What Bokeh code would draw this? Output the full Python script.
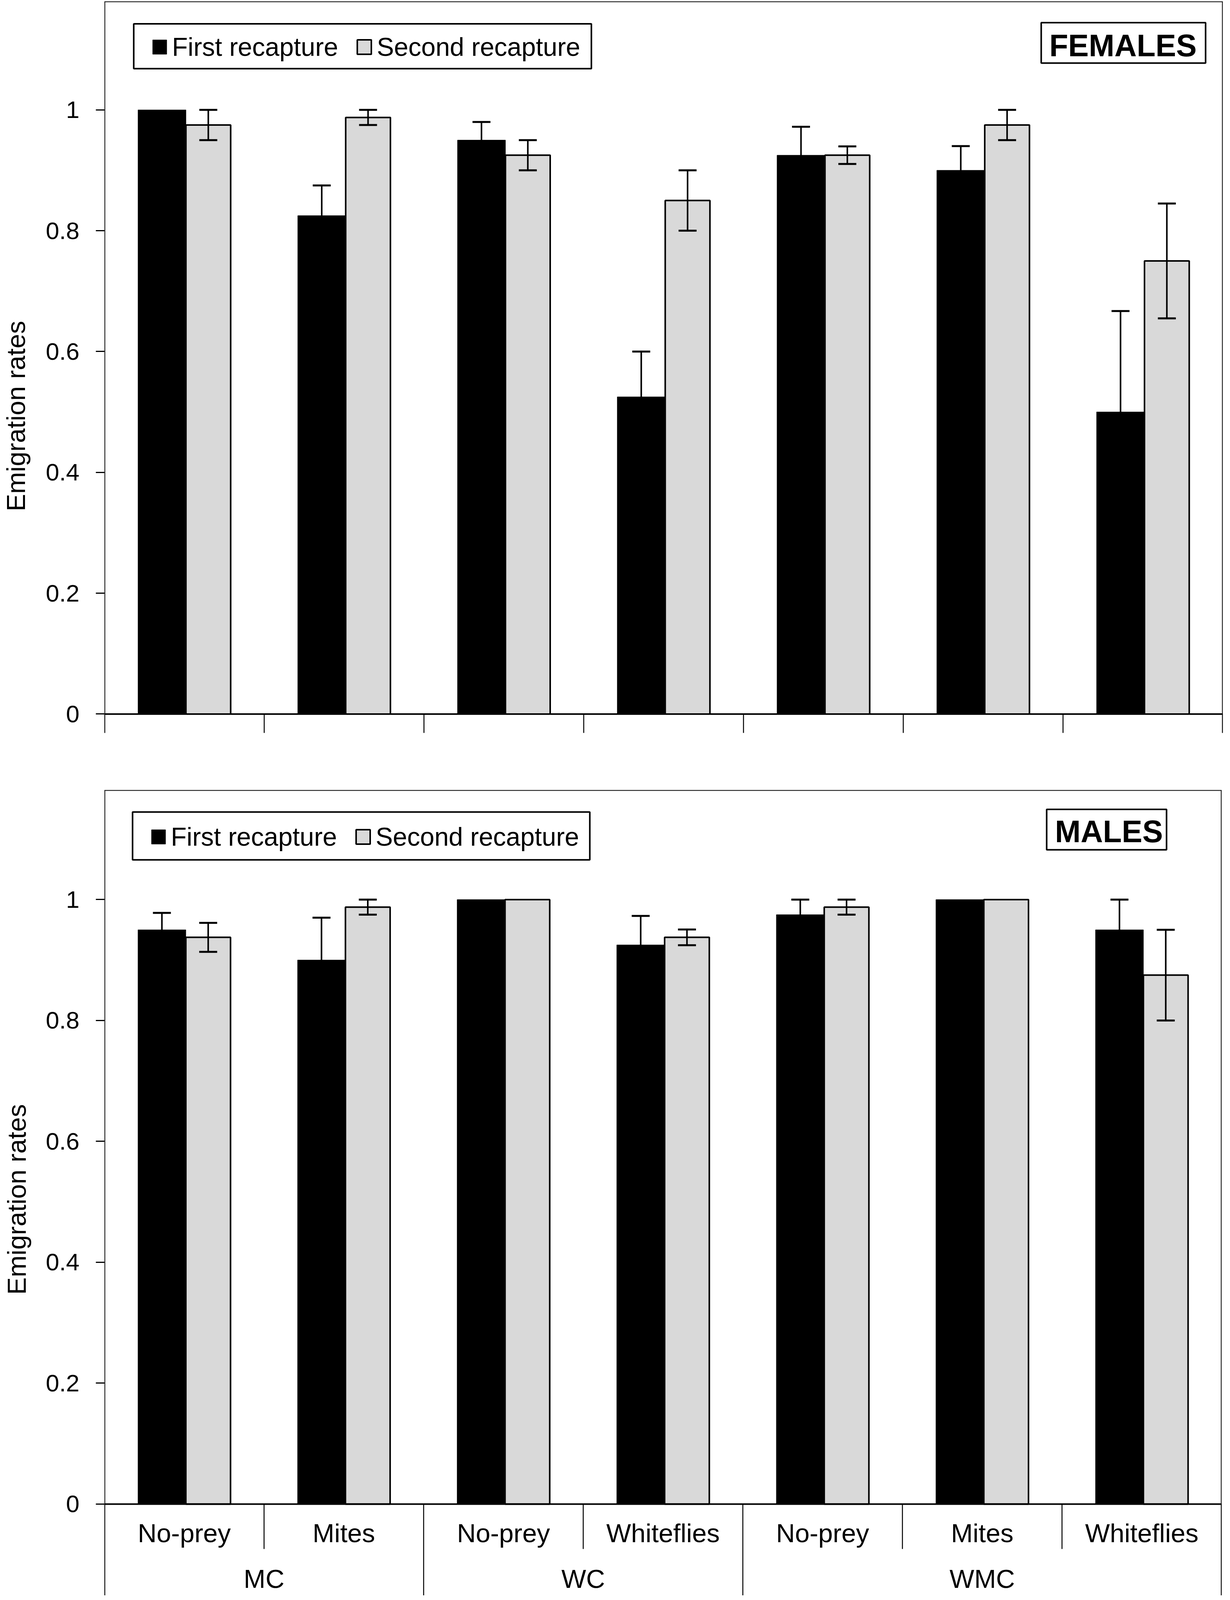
import math
from bokeh.plotting import figure
from bokeh.models import (Range1d, FixedTicker, Span, Whisker, TeeHead, ColumnDataSource,
                          Legend, LegendItem, BoxAnnotation, Label)
from bokeh.layouts import column, row
from bokeh.core.properties import value
from bokeh.embed import file_html
from bokeh.resources import INLINE

# ---------------- data ----------------
groups = ["MC", "MC", "WC", "WC", "WMC", "WMC", "WMC"]
prey = ["No-prey", "Mites", "No-prey", "Whiteflies", "No-prey", "Mites", "Whiteflies"]
series_names = ["First recapture", "Second recapture"]
y_ticks = [0, 0.2, 0.4, 0.6, 0.8, 1.0]
y_tick_labels = ["0", "0.2", "0.4", "0.6", "0.8", "1"]
y_title = "Emigration rates"
panel_titles = ["FEMALES", "MALES"]

fem_first = [1.0, 0.825, 0.95, 0.525, 0.925, 0.90, 0.50]
fem_first_err = [0.0, 0.05, 0.03, 0.075, 0.047, 0.04, 0.167]
fem_second = [0.975, 0.9875, 0.925, 0.85, 0.925, 0.975, 0.75]
fem_second_err = [0.025, 0.0125, 0.025, 0.05, 0.0145, 0.025, 0.095]

male_first = [0.95, 0.90, 1.0, 0.925, 0.975, 1.0, 0.95]
male_first_err = [0.028, 0.07, 0.0, 0.048, 0.025, 0.0, 0.05]
male_second = [0.9375, 0.9875, 1.0, 0.9375, 0.9875, 1.0, 0.875]
male_second_err = [0.024, 0.0125, 0.0, 0.013, 0.0125, 0.0, 0.075]

FONT = "Liberation Sans"
GREY = "#d9d9d9"
F = 0.95          # vertical fit factor (visible page height)
STRIP_R = 92      # page x where the y-title strip ends


def M(y):
    return y * F


def make_panel(title, first, first_err, second, second_err, g, with_labels):
    n = len(prey)
    left, right = g["left"], g["right"]
    top, bottom = round(M(g["top"])), round(M(g["bottom"]))
    zero = M(g["zero"])
    ppu = g["ppu"] * F
    fw = right - left
    fh = bottom - top
    y_max = (zero - top) / ppu
    y_min = -(bottom - zero) / ppu
    cat_px = fw / n

    def X(px):
        return (px - left) / cat_px

    def Y(py):
        return (zero - M(py)) / ppu

    fig_top = g["fig_top"]
    fig_bottom = g["fig_bottom"]
    p = figure(frame_width=fw, frame_height=fh,
               min_border_left=left - STRIP_R, min_border_right=3142 - right,
               min_border_top=top - fig_top, min_border_bottom=max(0, fig_bottom - bottom),
               x_range=Range1d(0, n), y_range=Range1d(y_min, y_max),
               x_axis_location=None, output_backend="svg", toolbar_location=None)
    p.grid.visible = False
    p.outline_line_color = None
    p.background_fill_color = "white"

    ax = p.yaxis[0]
    ax.ticker = FixedTicker(ticks=y_ticks, minor_ticks=[])
    ax.major_label_overrides = {t: s for t, s in zip(y_ticks, y_tick_labels)}
    ax.axis_line_color = None
    ax.major_tick_line_width = 3
    ax.major_tick_out = 22
    ax.major_tick_in = 0
    ax.minor_tick_line_color = None
    ax.major_label_standoff = 42
    ax.major_label_text_font = FONT
    ax.major_label_text_font_size = "62px"
    ax.major_label_text_color = "black"

    xs = list(range(n))
    r1 = p.vbar(x=[i + 0.36 for i in xs], width=0.30, top=first, bottom=0,
                fill_color="black", line_color="black", line_width=1)
    r2 = p.vbar(x=[i + 0.65 for i in xs], width=0.28, top=second, bottom=0,
                fill_color=GREY, line_color="black", line_width=4)

    for off, vals, errs in ((0.36, first, first_err), (0.65, second, second_err)):
        bx = [i + off for i, e in zip(xs, errs) if e > 0]
        up = [v + e for v, e in zip(vals, errs) if e > 0]
        lo = [v - e for v, e in zip(vals, errs) if e > 0]
        src = ColumnDataSource(dict(x=bx, upper=up, lower=lo))
        p.add_layout(Whisker(source=src, base="x", upper="upper", lower="lower",
                             dimension="height", line_color="black", line_width=4,
                             upper_head=TeeHead(size=46, line_width=5, line_color="black"),
                             lower_head=TeeHead(size=46, line_width=5, line_color="black"),
                             level="annotation"))

    # frame lines
    p.add_layout(Span(location=y_max, dimension="width", line_color="black", line_width=4))
    p.add_layout(Span(location=0, dimension="height", line_color="black", line_width=4))
    p.add_layout(Span(location=n, dimension="height", line_color="black", line_width=4))
    p.add_layout(Span(location=0, dimension="width", line_color="black", line_width=4))

    # category boundaries
    bounds = list(range(n + 1))
    group_bounds = [0] + [i for i in range(1, n) if groups[i] != groups[i - 1]] + [n]
    if with_labels:
        ends = [y_min if b in group_bounds else Y(g["sub_sep_end"]) for b in bounds]
    else:
        ends = [y_min for b in bounds]
    p.segment(x0=bounds, y0=[0] * len(bounds), x1=bounds, y1=ends,
              line_color="black", line_width=2.5)

    if with_labels:
        p.text(x=[i + 0.5 for i in xs], y=[Y(g["sub_cy"])] * n, text=prey,
               text_font=value(FONT), text_font_size=value("67px"),
               text_align="center", text_baseline="middle", text_color="black")
        gnames = [groups[b] for b in group_bounds[:-1]]
        gcent = [(a + b) / 2 for a, b in zip(group_bounds[:-1], group_bounds[1:])]
        p.text(x=gcent, y=[Y(g["grp_cy"])] * len(gcent), text=gnames,
               text_font=value(FONT), text_font_size=value("67px"),
               text_align="center", text_baseline="middle", text_color="black")

    # legend box + legend
    lb = g["leg_box"]
    p.add_layout(BoxAnnotation(left=X(lb[0]), right=X(lb[1]), top=Y(lb[2]), bottom=Y(lb[3]),
                               fill_color="white", fill_alpha=1.0, line_color="black",
                               line_width=4, line_alpha=1.0))
    h_item = g["leg_h"]
    legend = Legend(items=[LegendItem(label=series_names[0], renderers=[r1]),
                           LegendItem(label=series_names[1], renderers=[r2])],
                    orientation="horizontal",
                    location=(g["leg_x"] - left, bottom - (M(g["leg_cy"]) + h_item / 2)),
                    label_text_font=FONT, label_text_font_size="66px",
                    label_text_color="black",
                    glyph_width=45, glyph_height=46, label_standoff=10, spacing=44,
                    padding=0, margin=0, border_line_color=None, background_fill_alpha=0)
    p.add_layout(legend)

    # title box
    tb = g["title_box"]
    p.add_layout(BoxAnnotation(left=X(tb[0]), right=X(tb[1]), top=Y(tb[2]), bottom=Y(tb[3]),
                               fill_color="white", fill_alpha=1.0, line_color="black",
                               line_width=4, line_alpha=1.0))
    p.add_layout(Label(x=X(g["title_cx"]), y=Y(g["title_cy"]), text=title,
                       text_align="center", text_baseline="middle",
                       text_font=FONT, text_font_size="79px", text_font_style="bold",
                       text_color="black"))
    return p


FIG_SPLIT = round(M(2100))
FIG_END = round(M(4307))

g1 = dict(left=275, right=3139, top=12, zero=1932, bottom=1983, ppu=1628.0,
          fig_top=8, fig_bottom=FIG_SPLIT,
          leg_box=(350, 1522, 72, 193), leg_x=393.5, leg_cy=136, leg_h=74,
          title_box=(2674, 3095, 69, 178), title_cx=2883.5, title_cy=130)
g2 = dict(left=272, right=3133, top=2137, zero=4061, bottom=4307, ppu=1629.0,
          fig_top=FIG_SPLIT, fig_bottom=FIG_END,
          leg_box=(344, 1515, 2196, 2325), leg_x=387.5, leg_cy=2264, leg_h=74,
          title_box=(2685, 2992, 2189, 2298), title_cx=2844.5, title_cy=2248,
          sub_sep_end=4182, sub_cy=4139, grp_cy=4262.5)

p1 = make_panel(panel_titles[0], fem_first, fem_first_err, fem_second, fem_second_err, g1, False)
p2 = make_panel(panel_titles[1], male_first, male_first_err, male_second, male_second_err, g2, True)

# strip holding the two rotated y-axis titles (page-pixel coordinates)
strip_h = FIG_END - 8
strip = figure(width=STRIP_R - 8, height=strip_h, x_range=Range1d(8, STRIP_R),
               y_range=Range1d(8 + strip_h, 8), min_border=0,
               x_axis_location=None, y_axis_location=None,
               output_backend="svg", toolbar_location=None)
strip.grid.visible = False
strip.outline_line_color = None
strip.text(x=[48, 50], y=[M(1129), M(3240)], text=[y_title, y_title], angle=math.pi / 2,
           text_font=value(FONT), text_font_size=value("67px"),
           text_align="center", text_baseline="middle", text_color="black")

layout = row(strip, column(p1, p2))
open("out.html", "w").write(file_html(layout, INLINE))
